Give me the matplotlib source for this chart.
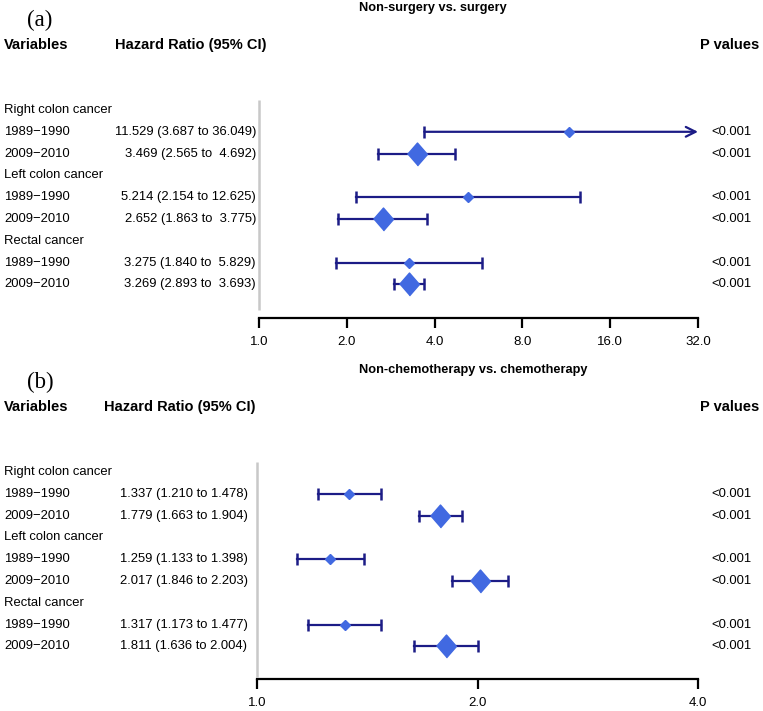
import matplotlib
matplotlib.use("Agg")
import matplotlib.pyplot as plt
import matplotlib.transforms as mtransforms

plt.rcParams['font.family'] = ['Liberation Sans', 'DejaVu Sans']

# Дані
groups = ["Right colon cancer", "Left colon cancer", "Rectal cancer"]
periods = ["1989\u22121990", "2009\u22122010"]

a_hr = [11.529, 3.469, 5.214, 2.652, 3.275, 3.269]
a_lo = [3.687, 2.565, 2.154, 1.863, 1.840, 2.893]
a_hi = [36.049, 4.692, 12.625, 3.775, 5.829, 3.693]
a_p = ["<0.001"] * 6
a_ticks = [1, 2, 4, 8, 16, 32]

b_hr = [1.337, 1.779, 1.259, 2.017, 1.317, 1.811]
b_lo = [1.210, 1.663, 1.133, 1.846, 1.173, 1.636]
b_hi = [1.478, 1.904, 1.398, 2.203, 1.477, 2.004]
b_p = ["<0.001"] * 6
b_ticks = [1, 2, 4]

W, H = 763, 711
line_col = '#1c1c86'
mark_col = '#4169E1'


def fx(x):
    return x / W


def fy(y):
    return 1 - y / H


def panel(fig, top, axis_y, x0, x1, hr, lo, hi, pv, ticks, letter, title,
          hr_x, hr_ha, hr_fmt, vline_end):
    # Заголовки
    fig.text(fx(27), fy(top + 20), letter, family='Liberation Serif',
             fontsize=16.5, va='center', ha='left')
    fig.text(fx(359), fy(top + 8), title, fontsize=9.2, fontweight='bold',
             va='center', ha='left')
    fig.text(fx(4), fy(top + 45), "Variables", fontsize=10.5,
             fontweight='bold', va='center')
    fig.text(fx(hr_x[0]), fy(top + 45), "Hazard Ratio (95% CI)", fontsize=10.5,
             fontweight='bold', va='center')
    fig.text(fx(759), fy(top + 45), "P values", fontsize=10.5,
             fontweight='bold', va='center', ha='right')

    row0 = top + 110
    step = 21.8
    ytop = (top + 100 - row0) / step
    ybot = (axis_y - row0) / step
    ax = fig.add_axes([fx(x0), fy(axis_y), fx(x1) - fx(x0),
                       (axis_y - top - 100) / H])
    ax.set_xscale('log', base=2)
    ax.set_xlim(ticks[0], ticks[-1])
    ax.set_ylim(ybot, ytop)
    ax.patch.set_alpha(0)
    for s in ['left', 'top', 'right']:
        ax.spines[s].set_visible(False)
    ax.spines['bottom'].set_linewidth(1.6)
    ax.set_xticks(ticks)
    ax.set_xticklabels([f"{t:.1f}" for t in ticks], fontsize=9.5)
    ax.minorticks_off()
    ax.tick_params(axis='x', length=7, width=1.6, pad=6)
    ax.set_yticks([])

    ax.vlines(ticks[0], ytop, (vline_end - row0) / step, color='#c8c8c8',
              lw=1.8, clip_on=False)

    tr = mtransforms.blended_transform_factory(fig.transFigure, ax.transData)
    k = 0
    for g, name in enumerate(groups):
        yg = 3 * g
        ax.text(fx(4), yg, name, transform=tr, fontsize=9.4, va='center')
        for j, per in enumerate(periods):
            y = yg + 1 + j
            ax.text(fx(4), y, per, transform=tr, fontsize=9.4, va='center')
            ax.text(fx(hr_x[1]), y, hr_fmt.format(hr[k], lo[k], hi[k]),
                    transform=tr, fontsize=9.4, va='center', ha=hr_ha)
            ax.text(fx(711), y, pv[k], transform=tr, fontsize=9.4,
                    va='center', ha='left')
            big = j == 1
            if hi[k] > ticks[-1]:
                # верхня межа за віссю -- стрілка
                ax.annotate('', xy=(ticks[-1], y), xytext=(lo[k], y),
                            arrowprops=dict(arrowstyle='->,head_length=0.7,head_width=0.35',
                                            color=line_col, lw=1.6,
                                            shrinkA=0, shrinkB=0))
                ax.plot([lo[k]], [y], marker='|', ms=8, mew=1.8,
                        color=line_col, clip_on=False)
            else:
                ax.plot([lo[k], hi[k]], [y, y], color=line_col, lw=1.6,
                        clip_on=False)
                ax.plot([lo[k], hi[k]], [y, y], ls='none', marker='|', ms=8,
                        mew=1.8, color=line_col, clip_on=False)
            if big:
                ax.plot([hr[k]], [y], marker=[(-1, 0), (0, 1.15), (1, 0), (0, -1.15)],
                        ms=16.5, color=mark_col, mec=mark_col, zorder=5)
            else:
                ax.plot([hr[k]], [y], marker='D', ms=5.4, color=mark_col,
                        mec=mark_col, zorder=5)
            k += 1
    return ax


fig = plt.figure(figsize=(W / 100, H / 100), dpi=100)

panel(fig, 0, 318, 259, 698, a_hr, a_lo, a_hi, a_p, a_ticks, "(a)",
      "Non-surgery vs. surgery", (115, 256), 'right',
      "{:.3f} ({:.3f} to {:>6.3f})", 310)
panel(fig, 362, 679, 257, 698, b_hr, b_lo, b_hi, b_p, b_ticks, "(b)",
      "Non-chemotherapy vs. chemotherapy", (104, 120), 'left',
      "{:.3f} ({:.3f} to {:.3f})", 677)

fig.savefig("out.png", dpi=100)
